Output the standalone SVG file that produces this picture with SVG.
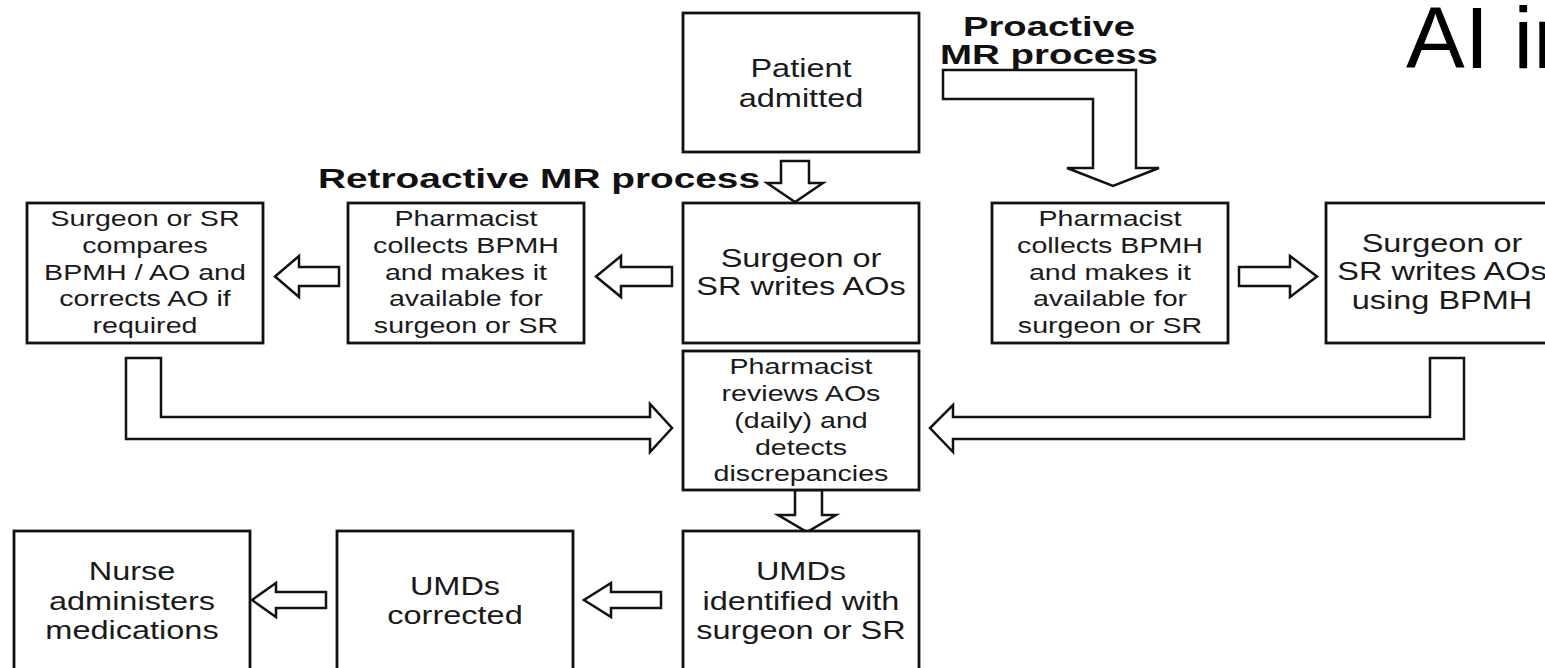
<svg xmlns="http://www.w3.org/2000/svg" width="1545" height="668" viewBox="0 0 1545 668">
<style>
.box{fill:#fff;stroke:#111;stroke-width:2.8}
.arr{fill:#fff;stroke:#111;stroke-width:2.5;stroke-linejoin:miter}
.t{font-family:"Liberation Sans",Arial,sans-serif;font-size:22px;fill:#1a1a1a;text-anchor:middle}
.tl{font-size:25px}
.b{font-family:"Liberation Sans",Arial,sans-serif;font-weight:bold;font-size:27px;fill:#111}
.ai{font-family:"Liberation Sans",Arial,sans-serif;font-size:88px;fill:#000}
</style>
<rect width="1545" height="668" fill="#fff"/>

<g id="connectors">
<polygon class="arr" points="781,161 809,161 809,183 823,183 795,202 767,183 781,183"/>
<polygon class="arr" points="672,267 621,267 621,256 596,276.5 621,297 621,286 672,286"/>
<polygon class="arr" points="339,267 299,267 299,256 275,276.5 299,297 299,286 339,286"/>
<polygon class="arr" points="1239,267 1290,267 1290,256 1317,276.5 1290,297 1290,286 1239,286"/>
<polygon class="arr" points="661,592 611,592 611,583 584,600 611,617 611,608 661,608"/>
<polygon class="arr" points="326,592 276,592 276,583 252,600 276,617 276,608 326,608"/>
<polygon class="arr" points="795,490 822,490 822,515 836,515 807,532 778,515 795,515"/>
<polygon class="arr" points="126,358 161,358 161,417 650,417 650,404 672,428 650,452 650,439 126,439"/>
<polygon class="arr" points="1464,358 1430,358 1430,417 953,417 953,405 930,428 953,452 953,439 1464,439"/>
<polygon class="arr" points="943,70 1136,70 1136,168 1159,168 1113,186 1067,168 1093,168 1093,99 943,99"/>
</g>

<g id="labels">
<text class="b" x="318" y="188" textLength="442" lengthAdjust="spacingAndGlyphs">Retroactive MR process</text>
<text class="b" x="963" y="36" textLength="172" lengthAdjust="spacingAndGlyphs">Proactive</text>
<text class="b" x="940" y="64" textLength="218" lengthAdjust="spacingAndGlyphs">MR process</text>
<text class="ai" x="1406" y="68">AI in</text>
</g>

<g id="patient-admitted">
<rect class="box" x="683" y="13" width="236" height="139"/>
<text class="t tl" transform="matrix(1.3 0 0 1 801 0)"><tspan x="0" y="77.5">Patient</tspan><tspan x="0" y="107.5">admitted</tspan></text>
</g>

<g id="surgeon-compares">
<rect class="box" x="27" y="203" width="236" height="140"/>
<text class="t" transform="matrix(1.3 0 0 1 145 0)"><tspan x="0" y="226.5">Surgeon or SR</tspan><tspan x="0" y="253">compares</tspan><tspan x="0" y="280">BPMH / AO and</tspan><tspan x="0" y="306.5">corrects AO if</tspan><tspan x="0" y="333">required</tspan></text>
</g>

<g id="pharmacist-collects-retro">
<rect class="box" x="348" y="203" width="236" height="140"/>
<text class="t" transform="matrix(1.3 0 0 1 466 0)"><tspan x="0" y="226.5">Pharmacist</tspan><tspan x="0" y="253">collects BPMH</tspan><tspan x="0" y="280">and makes it</tspan><tspan x="0" y="306.5">available for</tspan><tspan x="0" y="333">surgeon or SR</tspan></text>
</g>

<g id="surgeon-writes">
<rect class="box" x="683" y="203" width="236" height="140"/>
<text class="t tl" transform="matrix(1.3 0 0 1 801 0)"><tspan x="0" y="267.5">Surgeon or</tspan><tspan x="0" y="295.5">SR writes AOs</tspan></text>
</g>

<g id="pharmacist-collects-pro">
<rect class="box" x="992" y="203" width="236" height="140"/>
<text class="t" transform="matrix(1.3 0 0 1 1110 0)"><tspan x="0" y="226.5">Pharmacist</tspan><tspan x="0" y="253">collects BPMH</tspan><tspan x="0" y="280">and makes it</tspan><tspan x="0" y="306.5">available for</tspan><tspan x="0" y="333">surgeon or SR</tspan></text>
</g>

<g id="surgeon-writes-bpmh">
<rect class="box" x="1326" y="203" width="236" height="140"/>
<text class="t tl" transform="matrix(1.3 0 0 1 1442 0)"><tspan x="0" y="252.5">Surgeon or</tspan><tspan x="0" y="280.5">SR writes AOs</tspan><tspan x="0" y="309.5">using BPMH</tspan></text>
</g>

<g id="pharmacist-reviews">
<rect class="box" x="683" y="351" width="236" height="139"/>
<text class="t" transform="matrix(1.3 0 0 1 801 0)"><tspan x="0" y="374.5">Pharmacist</tspan><tspan x="0" y="401">reviews AOs</tspan><tspan x="0" y="428">(daily) and</tspan><tspan x="0" y="455">detects</tspan><tspan x="0" y="481">discrepancies</tspan></text>
</g>

<g id="umds-identified">
<rect class="box" x="683" y="531" width="236" height="145"/>
<text class="t tl" transform="matrix(1.3 0 0 1 801 0)"><tspan x="0" y="580.5">UMDs</tspan><tspan x="0" y="610.5">identified with</tspan><tspan x="0" y="639.5">surgeon or SR</tspan></text>
</g>

<g id="umds-corrected">
<rect class="box" x="337" y="531" width="236" height="145"/>
<text class="t tl" transform="matrix(1.3 0 0 1 455 0)"><tspan x="0" y="595.5">UMDs</tspan><tspan x="0" y="624.5">corrected</tspan></text>
</g>

<g id="nurse-administers">
<rect class="box" x="14" y="531" width="236" height="145"/>
<text class="t tl" transform="matrix(1.3 0 0 1 132 0)"><tspan x="0" y="580.5">Nurse</tspan><tspan x="0" y="610.5">administers</tspan><tspan x="0" y="639.5">medications</tspan></text>
</g>
</svg>
